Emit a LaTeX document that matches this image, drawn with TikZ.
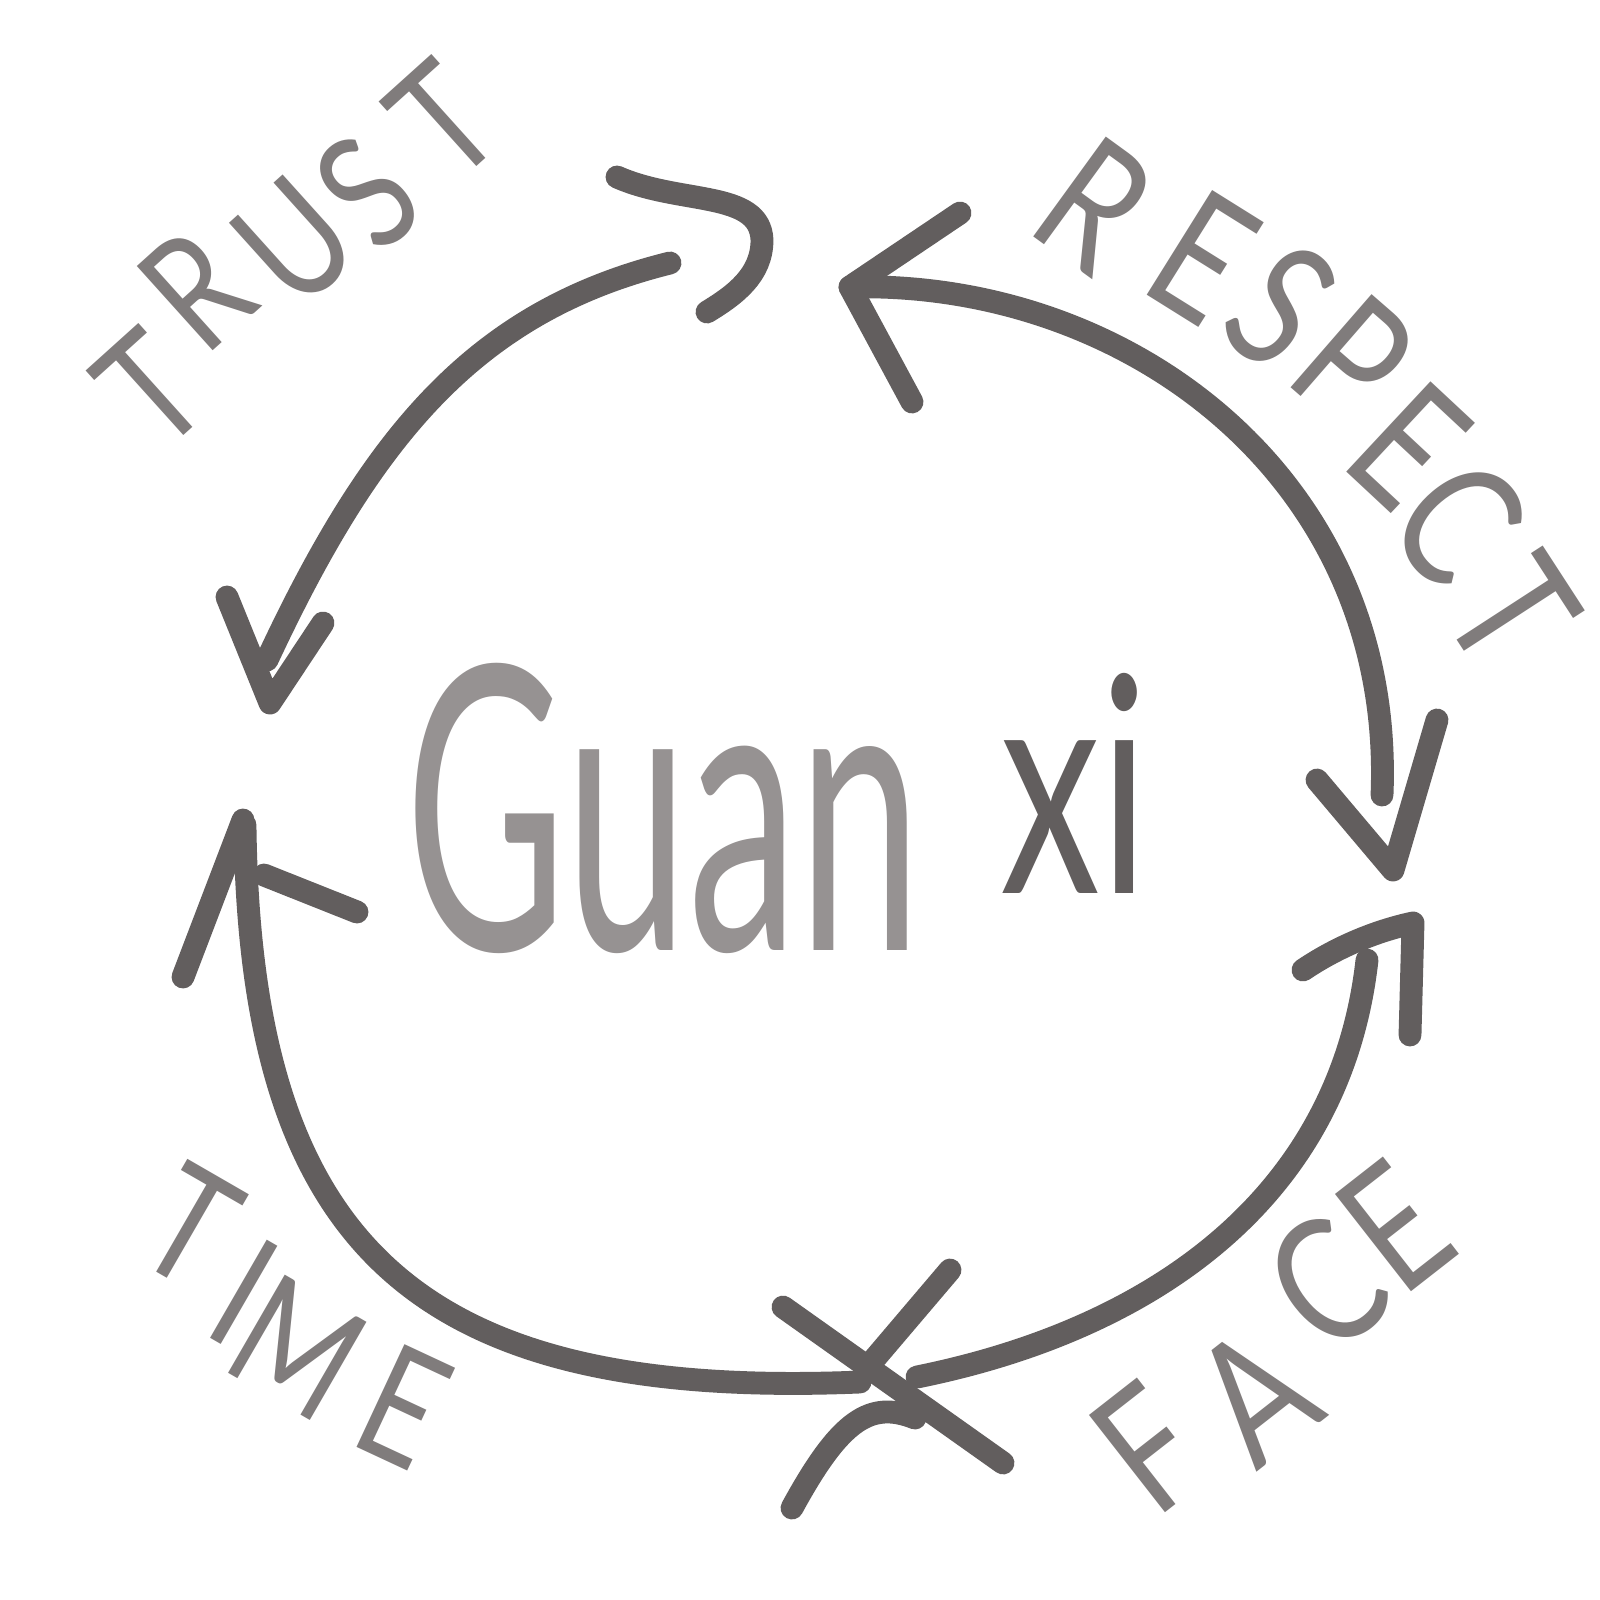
\documentclass[tikz,border=0pt]{standalone}
\usepackage{fontspec}
\setmainfont{Lato}
\definecolor{pencil}{RGB}{98,94,94}
\definecolor{pencillight}{RGB}{128,124,124}
\definecolor{guangray}{RGB}{150,146,146}
\newcommand\narrowltr[1]{\scalebox{0.8}[1]{#1}}
\begin{document}
\begin{tikzpicture}[x=0.01cm,y=-0.01cm,
  stroke/.style={draw=pencil,line width=6.5pt,line cap=round,line join=round},
  lbl/.style={inner sep=0pt,text=pencillight},
  trl/.style={lbl,font=\fontsize{45}{45}\selectfont,rotate=42},
  rel/.style={lbl,font=\fontsize{49}{49}\selectfont},
  fal/.style={lbl,font=\fontsize{49}{49}\selectfont,rotate=38},
  til/.style={lbl,font=\fontsize{45}{45}\selectfont,rotate=-30}]
\useasboundingbox[fill=white] (0,0) rectangle (1600,1600);

% TRUST
\node[trl] (tr1) at (150,389) {\narrowltr{T}};
\node[trl] (tr2) at (196,290) {\narrowltr{R}};
\node[trl] (tr3) at (295,242) {\narrowltr{U}};
\node[trl] (tr4) at (367,192) {\narrowltr{S}};
\node[trl] (tr5) at (443,120) {\narrowltr{T}};

% RESPECT
\node[rel,rotate=-36] (re1) at (1095,205) {\narrowltr{R}};
\node[rel,rotate=-32] (re2) at (1203,257) {\narrowltr{E}};
\node[rel,rotate=-38] (re3) at (1281,306) {\narrowltr{S}};
\node[rel,rotate=-41] (re4) at (1353,360) {\narrowltr{P}};
\node[rel,rotate=-43] (re5) at (1409,445) {\narrowltr{E}};
\node[rel,rotate=-50] (re6) at (1458,522) {\narrowltr{C}};
\node[rel,rotate=-57] (re7) at (1512,612) {\narrowltr{T}};

% FACE
\node[fal] (fa1) at (1148,1448) {\narrowltr{F}};
\node[fal] (fa2) at (1255,1395) {\narrowltr{A}};
\node[fal] (fa3) at (1327,1283) {\narrowltr{C}};
\node[fal] (fa4) at (1395,1226) {\narrowltr{E}};

% TIME
\node[til] (ti1) at (190,1226) {\narrowltr{T}};
\node[til] (ti2) at (244,1292) {\narrowltr{I}};
\node[til] (ti3) at (298,1348) {\narrowltr{M}};
\node[til,rotate=5] (ti4) at (404,1407) {\narrowltr{E}};

% centre text
\node[inner sep=0pt,anchor=base west,text=guangray] (guan) at (405,950) {\resizebox{5.15cm}{2.87cm}{Guan}};
\node[inner sep=0pt,anchor=base west,text=pencil] (xi) at (1000,893) {\resizebox{1.48cm}{2.2cm}{xi}};

% coordinates
\coordinate (tA) at (670,263);
\coordinate (tB) at (267,660);
\coordinate (rA) at (850,287);
\coordinate (rB) at (1382,795);
\coordinate (fA) at (917,1377);
\coordinate (fB) at (1367,960);
\coordinate (mA) at (860,1382);
\coordinate (mB) at (245,825);

% arcs
\draw[stroke] (tA) .. controls (476,311) and (372,435) .. (tB);
\draw[stroke] (rA) .. controls (1130,280) and (1395,480) .. (rB);
\draw[stroke] (fA) .. controls (1150,1330) and (1340,1200) .. (fB);
\draw[stroke] (mA) .. controls (420,1400) and (250,1250) .. (mB);

% arrow heads
\coordinate (h1a) at (617,177);
\coordinate (h1b) at (762,240);
\coordinate (h1c) at (707,312);
\draw[stroke] (h1a) .. controls (680,205) and (760,190) .. (h1b) .. controls (762,275) and (735,295) .. (h1c);

\coordinate (h2tip) at (270,703);
\draw[stroke] (227,597) -- (h2tip) -- (323,623);

\draw[stroke] (960,213) -- (rA) -- (912,402);

\coordinate (h4tip) at (1393,870);
\draw[stroke] (1317,780) -- (h4tip) -- (1437,720);

\coordinate (h5tip) at (1413,923);
\draw[stroke] (1303,970) .. controls (1340,945) and (1380,930) .. (h5tip) -- (1410,1035);

\coordinate (h6tip) at (243,820);
\draw[stroke] (183,977) -- (h6tip);
\draw[stroke] (264,875) -- (357,912);

% the cross at the bottom
\draw[stroke] (783,1307) -- (1003,1463);
\draw[stroke] (950,1270) -- (865,1370);
\draw[stroke] (915,1418) .. controls (870,1400) and (840,1420) .. (792,1508);
\end{tikzpicture}
\end{document}
